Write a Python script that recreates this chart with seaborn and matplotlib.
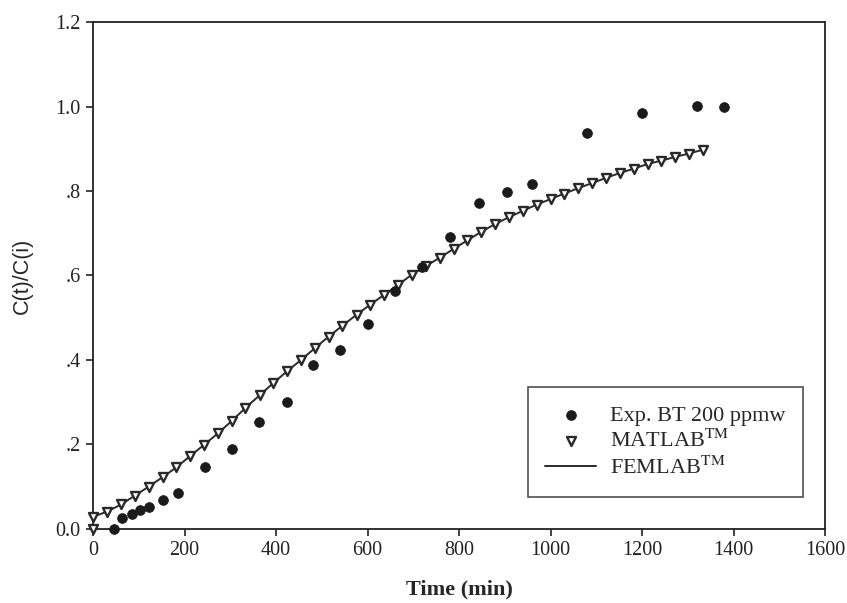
import matplotlib
matplotlib.use("Agg")
import matplotlib.pyplot as plt
import seaborn as sns
import pandas as pd

# Experimental data (Exp. BT 200 ppmw)
exp_time = [45, 63, 85, 103, 123, 153, 185, 244, 304, 363, 424, 481, 540, 600,
            660, 720, 781, 843, 904, 960, 1080, 1200, 1320, 1380]
exp_conc = [0.0, 0.025, 0.035, 0.044, 0.052, 0.068, 0.085, 0.145, 0.189, 0.252,
            0.299, 0.388, 0.423, 0.484, 0.563, 0.620, 0.690, 0.771, 0.797, 0.816,
            0.937, 0.985, 1.001, 1.000]

# MATLAB model
mat_time = [0, 0, 30, 61, 91, 121, 152, 182, 212, 242, 273, 303, 333, 364, 394, 424,
            455, 485, 515, 545, 576, 606, 636, 667, 697, 727, 758, 788, 818, 848,
            879, 909, 939, 970, 1000, 1030, 1061, 1091, 1121, 1152, 1182, 1212,
            1242, 1273, 1303, 1333]
mat_conc = [0.0, 0.028, 0.040, 0.057, 0.078, 0.099, 0.122, 0.145, 0.172, 0.198,
            0.226, 0.255, 0.286, 0.316, 0.345, 0.373, 0.400, 0.428, 0.455, 0.481,
            0.507, 0.531, 0.554, 0.578, 0.602, 0.622, 0.642, 0.663, 0.683, 0.703,
            0.722, 0.738, 0.753, 0.768, 0.781, 0.794, 0.807, 0.819, 0.831, 0.843,
            0.853, 0.864, 0.872, 0.881, 0.889, 0.898]

# FEMLAB model
fem_time = [0, 30, 61, 91, 121, 152, 182, 212, 242, 273, 303, 333, 364, 394, 424,
            455, 485, 515, 545, 576, 606, 636, 667, 697, 727, 758, 788, 818, 848,
            879, 909, 939, 970, 1000, 1030, 1061, 1091, 1121, 1152, 1182, 1212,
            1242, 1273, 1303, 1333]
fem_conc = [0.028, 0.040, 0.057, 0.078, 0.099, 0.122, 0.145, 0.172, 0.198,
            0.226, 0.255, 0.286, 0.316, 0.345, 0.373, 0.400, 0.428, 0.455, 0.481,
            0.507, 0.531, 0.554, 0.578, 0.602, 0.622, 0.642, 0.663, 0.683, 0.703,
            0.722, 0.738, 0.753, 0.768, 0.781, 0.794, 0.807, 0.819, 0.831, 0.843,
            0.853, 0.864, 0.872, 0.881, 0.889, 0.898]

x_ticks = [0, 200, 400, 600, 800, 1000, 1200, 1400, 1600]
y_ticks = [0.0, 0.2, 0.4, 0.6, 0.8, 1.0, 1.2]
y_tick_labels = ["0.0", ".2", ".4", ".6", ".8", "1.0", "1.2"]

sns.set_style("ticks")
plt.rcParams["font.family"] = ["Liberation Serif", "DejaVu Serif"]
plt.rcParams["mathtext.fontset"] = "stix"

fig = plt.figure(figsize=(8.47, 6.03), dpi=100)
ax = fig.add_axes([0.110, 0.1235, 0.864, 0.8395])

df_exp = pd.DataFrame({"t": exp_time, "c": exp_conc})
df_mat = pd.DataFrame({"t": mat_time, "c": mat_conc})
df_fem = pd.DataFrame({"t": fem_time, "c": fem_conc})

sns.lineplot(data=df_fem, x="t", y="c", ax=ax, color="#2a2a2a", linewidth=1.4,
             label="FEMLAB$^{\\rm TM}$", sort=False, zorder=2)
sns.scatterplot(data=df_mat, x="t", y="c", ax=ax, marker="v", s=42,
                facecolor="white", edgecolor="#2a2a2a", linewidth=1.7,
                label="MATLAB$^{\\rm TM}$", zorder=3, clip_on=False)
sns.scatterplot(data=df_exp, x="t", y="c", ax=ax, marker="o", s=50,
                color="#1a1a1a", edgecolor="#1a1a1a", linewidth=0.5,
                label="Exp. BT 200 ppmw", zorder=4, clip_on=False)

ax.set_xlim(0, 1600)
ax.set_ylim(0, 1.2)
ax.set_xticks(x_ticks)
ax.set_xticklabels([str(v) for v in x_ticks])
ax.set_yticks(y_ticks)
ax.set_yticklabels(y_tick_labels)
ax.tick_params(axis="both", direction="out", length=5, width=1.2,
               labelsize=14.5, colors="#222222", pad=4)
for sp in ax.spines.values():
    sp.set_linewidth(1.3)
    sp.set_color("#222222")
    sp.set_visible(True)

ax.set_xlabel("Time (min)", fontsize=16, fontweight="bold", labelpad=14)
ax.set_ylabel("C(t)/C(i)", fontsize=15.5, family=["Liberation Sans", "DejaVu Sans"],
              labelpad=16)

h, l = ax.get_legend_handles_labels()
order = [l.index("Exp. BT 200 ppmw"), l.index("MATLAB$^{\\rm TM}$"),
         l.index("FEMLAB$^{\\rm TM}$")]
leg = ax.legend([h[i] for i in order], [l[i] for i in order],
                loc="lower right", bbox_to_anchor=(0.970, 0.063),
                borderaxespad=0, fontsize=16, frameon=True, fancybox=False,
                edgecolor="#222222", handlelength=2.3, borderpad=0.8,
                labelspacing=0.2, handletextpad=0.6)
leg.get_frame().set_linewidth(1.2)

fig.savefig("out.png", dpi=100)
